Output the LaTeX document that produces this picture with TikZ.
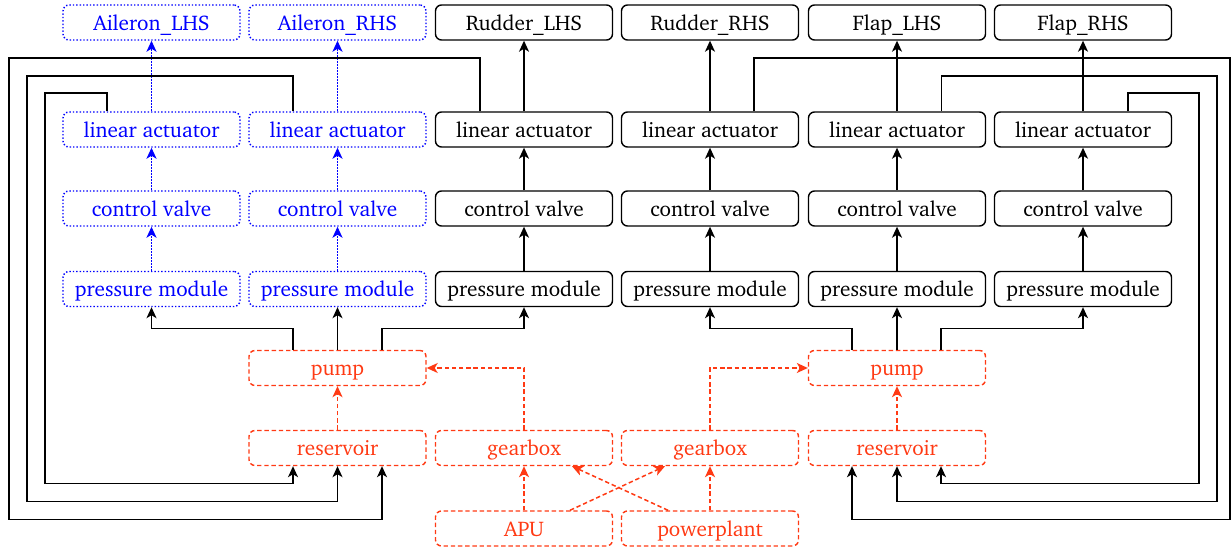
\documentclass[tikz,border=0pt]{standalone}
\usepackage[T1]{fontenc}
\usepackage{charter}
\usetikzlibrary{arrows.meta,calc}
\definecolor{hydred}{RGB}{255,58,20}
\definecolor{ailblue}{RGB}{0,0,255}
\begin{document}
\begin{tikzpicture}[x=0.5pt,y=-0.5pt,
  box/.style={rectangle,rounded corners=3pt,minimum width=88.5pt,minimum height=17.5pt,inner sep=0pt,line width=0.7pt,
    font=\fontsize{10.6pt}{13pt}\selectfont,text height=10pt,text depth=2pt},
  blk/.style={box,draw=black},
  ail/.style={box,draw=ailblue,text=ailblue,dash pattern=on 0.7pt off 1pt},
  pwr/.style={box,draw=hydred,text=hydred,dash pattern=on 2.2pt off 1.4pt},
  tip/.style={-{Stealth[length=5.5pt,width=5pt,inset=1.5pt]}},
  flow/.style={tip,line width=0.75pt,draw=black},
  aflow/.style={tip,line width=0.9pt,color=ailblue,dash pattern=on 1pt off 0.5pt},
  pflow/.style={tip,line width=0.75pt,draw=hydred,dash pattern=on 2.2pt off 1.4pt}]
\useasboundingbox (0,0) rectangle (1231,549);

% control surfaces
\node[ail] (s1) at (151.5,22.5) {Aileron\_LHS};
\node[ail] (s2) at (337.5,22.5) {Aileron\_RHS};
\node[blk] (s3) at (524,22.5) {Rudder\_LHS};
\node[blk] (s4) at (710,22.5) {Rudder\_RHS};
\node[blk] (s5) at (897,22.5) {Flap\_LHS};
\node[blk] (s6) at (1083,22.5) {Flap\_RHS};

% linear actuators
\node[ail] (la1) at (151.5,129.5) {linear actuator};
\node[ail] (la2) at (337.5,129.5) {linear actuator};
\node[blk] (la3) at (524,129.5) {linear actuator};
\node[blk] (la4) at (710,129.5) {linear actuator};
\node[blk] (la5) at (897,129.5) {linear actuator};
\node[blk] (la6) at (1083,129.5) {linear actuator};

% control valves
\node[ail] (cv1) at (151.5,208.5) {control valve};
\node[ail] (cv2) at (337.5,208.5) {control valve};
\node[blk] (cv3) at (524,208.5) {control valve};
\node[blk] (cv4) at (710,208.5) {control valve};
\node[blk] (cv5) at (897,208.5) {control valve};
\node[blk] (cv6) at (1083,208.5) {control valve};

% pressure modules
\node[ail] (pm1) at (151.5,289) {pressure module};
\node[ail] (pm2) at (337.5,289) {pressure module};
\node[blk] (pm3) at (524,289) {pressure module};
\node[blk] (pm4) at (710,289) {pressure module};
\node[blk] (pm5) at (897,289) {pressure module};
\node[blk] (pm6) at (1083,289) {pressure module};

% power supply
\node[pwr] (pumpL) at (337.5,368) {pump};
\node[pwr] (pumpR) at (897,368) {pump};
\node[pwr] (resL) at (337.5,448) {reservoir};
\node[pwr] (gbL) at (524,448) {gearbox};
\node[pwr] (gbR) at (710,448) {gearbox};
\node[pwr] (resR) at (897,448) {reservoir};
\node[pwr] (apu) at (524,528.5) {APU};
\node[pwr] (pp) at (710,528.5) {powerplant};

% aileron chains
\foreach \i in {1,2}{
  \draw[aflow] (pm\i) -- (cv\i);
  \draw[aflow] (cv\i) -- (la\i);
  \draw[aflow] (la\i) -- (s\i);
}
% rudder and flap chains
\foreach \i in {3,4,5,6}{
  \draw[flow] (pm\i) -- (cv\i);
  \draw[flow] (cv\i) -- (la\i);
  \draw[flow] (la\i) -- (s\i);
}

% pump outputs
\draw[flow] ($(pumpL.north)+(-44.5,0)$) -- ++(0,-21.5) -| (pm1.south);
\draw[flow] (pumpL) -- (pm2);
\draw[flow] ($(pumpL.north)+(44.5,0)$) -- ++(0,-21.5) -| (pm3.south);
\draw[flow] ($(pumpR.north)+(-45,0)$) -- ++(0,-21.5) -| (pm4.south);
\draw[flow] (pumpR) -- (pm5);
\draw[flow] ($(pumpR.north)+(44,0)$) -- ++(0,-21.5) -| (pm6.south);

% return lines to the reservoirs
\draw[flow] ($(la1.north)+(-44.5,0)$) |- (45,93) |- ($(resL.south)+(-44.5,17.5)$) -- ($(resL.south)+(-44.5,0)$);
\draw[flow] ($(la2.north)+(-44.5,0)$) |- (27,76) |- ($(resL.south)+(0,35.5)$) -- (resL.south);
\draw[flow] ($(la3.north)+(-44,0)$) |- (9,58) |- ($(resL.south)+(44.5,53.5)$) -- ($(resL.south)+(44.5,0)$);
\draw[flow] ($(la4.north)+(44,0)$) |- (1230,58) |- ($(resR.south)+(-45,53.5)$) -- ($(resR.south)+(-45,0)$);
\draw[flow] ($(la5.north)+(44.5,0)$) |- (1217,76) |- ($(resR.south)+(0,35.5)$) -- (resR.south);
\draw[flow] ($(la6.north)+(45,0)$) |- (1199,93) |- ($(resR.south)+(44,17.5)$) -- ($(resR.south)+(44,0)$);

% power drives
\draw[pflow] (resL) -- (pumpL);
\draw[pflow] (resR) -- (pumpR);
\draw[pflow] (gbL.north) |- (pumpL.east);
\draw[pflow] (gbR.north) |- (pumpR.west);
\draw[pflow] (apu) -- (gbL);
\draw[pflow] (pp) -- (gbR);
\draw[pflow] ($(apu.north)+(46,0)$) -- ($(gbR.south)+(-45,0)$);
\draw[pflow] ($(pp.north)+(-42,0)$) -- ($(gbL.south)+(48,0)$);
\end{tikzpicture}
\end{document}
